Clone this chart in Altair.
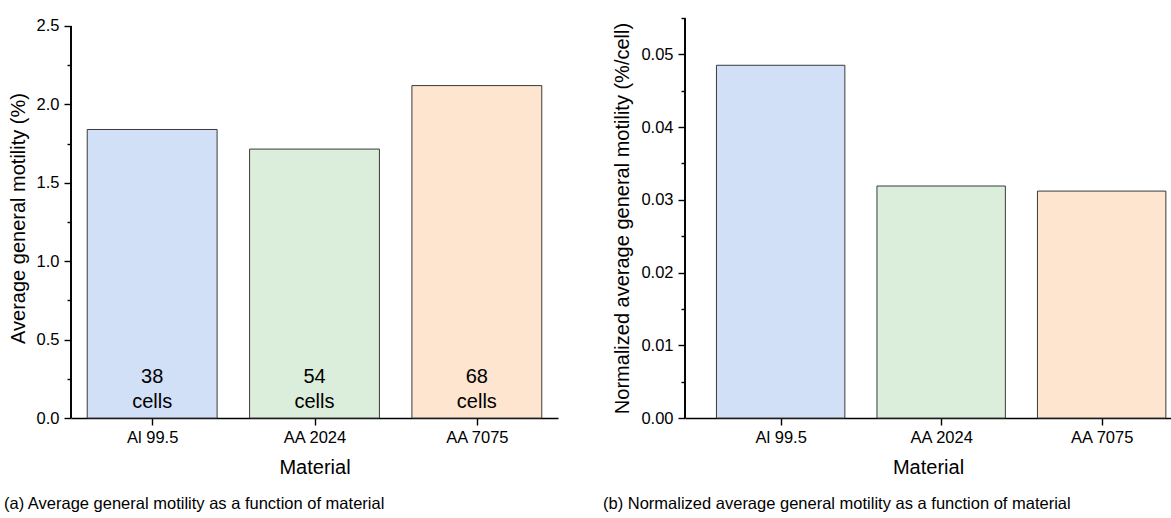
import altair as alt
import pandas as pd

materials = ["Al 99.5", "AA 2024", "AA 7075"]
avg_motility = [1.84, 1.715, 2.12]
norm_motility = [0.0485, 0.0319, 0.0312]
cell_counts = [38, 54, 68]
bar_colors = ["#d2e0f7", "#daeedb", "#fde5cf"]

left_major = [0.0, 0.5, 1.0, 1.5, 2.0, 2.5]
left_minor = [0.25, 0.75, 1.25, 1.75, 2.25]
right_major = [0.0, 0.01, 0.02, 0.03, 0.04, 0.05]
right_minor = [0.005, 0.015, 0.025, 0.035, 0.045, 0.055]

FONT = "Liberation Sans"

df = pd.DataFrame({
    "material": materials,
    "idx": list(range(len(materials))),
    "avg": avg_motility,
    "norm": norm_motility,
    "count": cell_counts,
})
df["label"] = [f"{c}\ncells" for c in cell_counts]

color_scale = alt.Scale(domain=materials, range=bar_colors)
label_expr = "['Al 99.5','AA 2024','AA 7075'][datum.value]"


def x_axis():
    return alt.Axis(values=[0, 1, 2], labelExpr=label_expr, title="Material",
                    grid=False, tickSize=7, domainColor="black", tickColor="black",
                    domainWidth=1.4, tickWidth=1.4, labelPadding=4,
                    labelFontSize=16.5, titleFontSize=20, labelFont=FONT, titleFont=FONT,
                    titleFontWeight="normal", titlePadding=12, labelColor="black",
                    titleColor="black")


def panel(field, ytitle, ydomain, yaxis_top, major, minor, xdomain, width, caption, cap_dx,
          with_text, fmt):
    base = alt.Chart(df).transform_calculate(x0="datum.idx - 0.4", x1="datum.idx + 0.4")
    xs = alt.Scale(domain=xdomain, nice=False, zero=False, padding=0)
    ys = alt.Scale(domain=ydomain, nice=False, zero=False, padding=0)
    bars = base.mark_bar(stroke="#3a3a3a", strokeWidth=1).encode(
        x=alt.X("x0:Q", scale=xs, axis=x_axis()),
        x2="x1:Q",
        y=alt.Y(f"{field}:Q", scale=ys,
                axis=alt.Axis(values=major, title=ytitle, grid=False, domain=False,
                              tickSize=7, tickColor="black", tickWidth=1.4,
                              labelFontSize=16.5, titleFontSize=20, labelFont=FONT,
                              titleFont=FONT, titleFontWeight="normal", labelPadding=5,
                              titlePadding=8, labelColor="black", titleColor="black",
                              format=fmt)),
        y2=alt.datum(0),
        fill=alt.Fill("material:N", scale=color_scale, legend=None),
    )
    minor_axis = base.mark_bar(opacity=0).encode(
        x=alt.X("x0:Q", scale=xs, axis=x_axis()),
        x2="x1:Q",
        y=alt.Y(f"{field}:Q", scale=ys,
                axis=alt.Axis(values=minor, orient="left", labels=False, domain=False,
                              title=None, grid=False, tickSize=4, tickColor="black",
                              tickWidth=1.4)),
    )
    yline = base.mark_rule(color="black", strokeWidth=1.4).encode(
        x=alt.value(0),
        y=alt.Y("ybot:Q", scale=ys, axis=None),
        y2="ytop:Q",
    ).transform_calculate(ybot="0", ytop=str(yaxis_top))
    layers = [bars, minor_axis, yline]
    if with_text:
        txt = base.mark_text(font=FONT, fontSize=20, lineBreak="\n", lineHeight=25,
                             baseline="middle", dy=-41, color="black").encode(
            x=alt.X("idx:Q", scale=xs, axis=x_axis()),
            y=alt.Y("zero:Q", scale=ys, axis=None),
            text="label:N",
        ).transform_calculate(zero="0")
        layers.append(txt)
    return alt.layer(*layers).resolve_axis(y="independent").properties(
        width=width, height=400,
        title=alt.TitleParams(caption, orient="bottom", anchor="start", frame="group",
                              dx=cap_dx, offset=18, fontSize=16.5, font=FONT,
                              fontWeight="normal", color="black"),
    )


left = panel("avg", "Average general motility (%)", [0, 2.551], 2.5, left_major, left_minor,
             [-0.5, 2.5], 487, "(a) Average general motility as a function of material", -67,
             True, ".1f")
right = panel("norm", "Normalized average general motility (%/cell)", [0, 0.055], 0.055,
              right_major, right_minor, [-0.596, 2.432], 486,
              "(b) Normalized average general motility as a function of material", -82,
              False, ".2f")

chart = alt.hconcat(left, right, spacing=127, bounds="flush").properties(
    padding={"left": 4, "top": 17, "right": 0, "bottom": 0}
).configure(background="white").configure_view(stroke=None)

chart.save("out.html", embed_options={"renderer": "svg", "actions": False})
